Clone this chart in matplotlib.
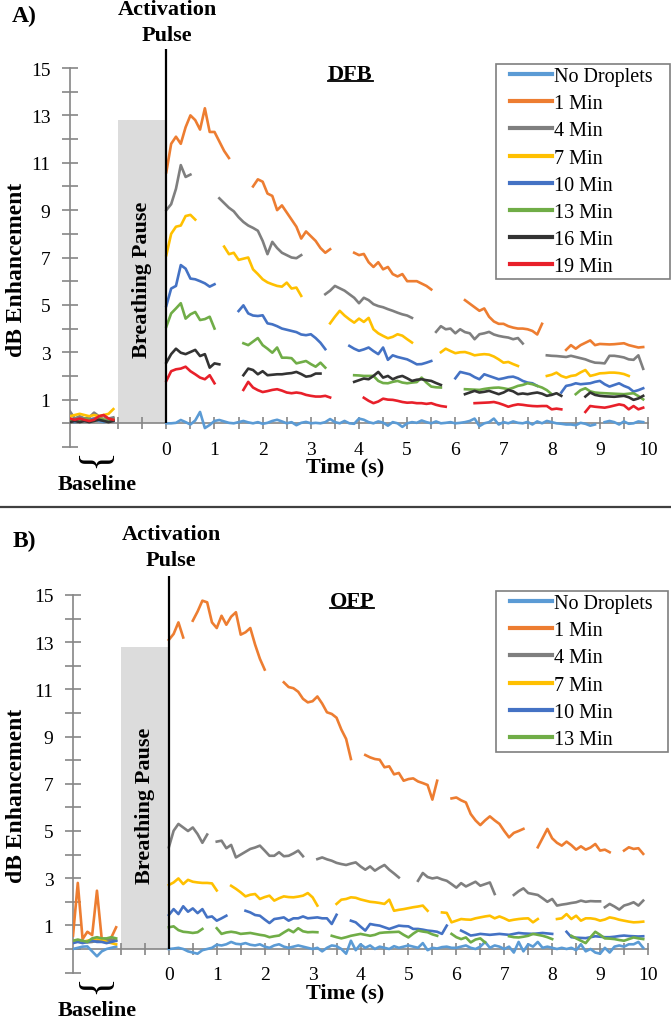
import numpy as np
import matplotlib
matplotlib.use('Agg')
import matplotlib.pyplot as plt
from matplotlib.patches import Rectangle
from matplotlib.lines import Line2D
from matplotlib.ticker import FixedLocator, FuncFormatter

plt.rcParams['font.family'] = ['Liberation Serif', 'DejaVu Serif']

W, H = 671, 1020
DT = 0.1  # sampling step (s)

labels_a = ['No Droplets', '1 Min', '4 Min', '7 Min', '10 Min', '13 Min', '16 Min', '19 Min']
labels_b = labels_a[:6]
colors = ['#5B9BD5', '#ED7D31', '#7F7F7F', '#FFC000', '#4472C4', '#70AD47', '#333333', '#E8202A']

# each series is a list of (start time, values) segments, sampled every DT
# ---------------- A) DFB ----------------
dfb_none = [
    (-2.0, [0.1, 0.05, 0.1, 0.12, 0.08, 0.15, 0.1, 0.05, 0.1, 0.12]),
    (0.0, [0.0, 0.0, 0.02, 0.14, 0.05, -0.05, 0.12, 0.48, -0.2, -0.07,
           0.1, 0.14, 0.08, 0.02, 0.0, 0.05, 0.1, 0.04, 0.0, 0.05,
           -0.02, 0.02, 0.1, 0.15, 0.08, 0.0, 0.05, -0.08, 0.02, 0.06,
           0.0, 0.02, 0.0, 0.05, 0.18, 0.05, 0.0, 0.1, 0.0, -0.02,
           0.2, 0.15, 0.05, 0.0, 0.08, 0.03, -0.1, 0.05, 0.0, -0.15,
           0.0, 0.05, 0.02, 0.12, 0.05, 0.0, 0.08, 0.0, 0.02, 0.05,
           0.0, 0.02, 0.05, 0.1, 0.2, -0.12, 0.0, 0.05, 0.2, -0.05,
           0.05, 0.0, 0.08, 0.02, 0.0, 0.06, -0.05, 0.08, 0.0, 0.1,
           0.05, 0.0, -0.02, -0.05, -0.05, -0.08, 0.02, -0.02, -0.1, -0.05]),
    (9.1, [0.05, 0.1, 0.05, -0.05, 0.08, -0.02, 0.0, 0.08, 0.05]),
]
dfb_1 = [
    (-2.0, [0.2, 0.15, 0.25, 0.2, 0.15, 0.2, 0.3, 0.15, 0.2, 0.2]),
    (0.0, [10.6, 11.8, 12.1, 11.8, 12.5, 13.0, 12.8, 12.4, 13.3, 12.3, 12.3, 11.9, 11.5, 11.2]),
    (1.8, [10.0, 10.3, 10.2, 9.7, 9.6, 9.0, 9.2, 8.9, 8.6, 8.3, 7.8, 8.1, 7.9, 7.7, 7.4, 7.2, 7.35]),
    (3.9, [7.2, 7.1, 7.15, 6.8, 6.6, 6.8, 6.5, 6.6, 6.3, 6.2, 6.3, 6.0, 6.0, 6.0, 5.9, 5.8, 5.65]),
    (6.2, [5.2, 5.05, 4.9, 4.75, 4.85, 4.5, 4.3, 4.2, 4.2, 4.1, 4.04, 4.0, 4.0, 3.97, 3.9, 3.75, 4.2]),
    (8.3, [3.1, 3.3, 3.15, 3.3, 3.4, 3.5, 3.3, 3.35, 3.34, 3.33, 3.34, 3.36, 3.38, 3.3, 3.25, 3.2, 3.22]),
]
dfb_4 = [
    (-2.0, [0.5, 0.2, 0.3, 0.2, 0.25, 0.45, 0.3, 0.3, 0.2, 0.25]),
    (0.0, [9.0, 9.25, 9.9, 10.9, 10.4, 10.5]),
    (1.1, [9.5, 9.3, 9.1, 8.95, 8.7, 8.5, 8.35, 8.25, 8.13, 7.7, 7.14, 7.66, 7.4, 7.2, 7.1, 7.0, 6.97, 7.1]),
    (3.3, [5.45, 5.6, 5.8, 5.7, 5.6, 5.45, 5.3, 5.07, 5.3, 5.2, 5.03, 4.95, 4.9, 4.82, 4.75, 4.67, 4.6, 4.55, 4.45]),
    (5.6, [3.86, 4.1, 3.97, 4.0, 3.8, 3.97, 3.85, 3.8, 3.55, 3.76, 3.8, 3.86, 3.75, 3.69, 3.65, 3.62, 3.55, 3.6, 3.37]),
    (7.9, [2.87, 2.85, 2.84, 2.82, 2.8, 2.85, 2.8, 2.75, 2.7, 2.62, 2.56, 2.55, 2.53, 2.85, 2.85, 2.82, 2.78,
           2.7, 2.68, 2.87, 2.3]),
]
dfb_7 = [
    (-2.0, [0.3, 0.35, 0.4, 0.35, 0.3, 0.35, 0.3, 0.35, 0.4, 0.6]),
    (0.0, [7.1, 8.0, 8.3, 8.35, 8.75, 8.8, 8.6]),
    (1.2, [7.46, 7.14, 7.2, 6.9, 6.95, 7.0, 6.5, 6.3, 6.08, 5.95, 5.87, 5.8, 5.77, 5.94, 5.69, 5.73, 5.38]),
    (3.4, [4.22, 4.5, 4.75, 4.55, 4.39, 4.25, 4.42, 4.28, 4.45, 3.97, 3.8, 3.69, 3.59, 3.65, 3.76, 3.7, 3.55, 3.41]),
    (5.7, [3.0, 3.15, 3.05, 2.96, 3.0, 3.01, 2.95, 2.87, 2.9, 2.92, 2.9, 2.82, 2.7, 2.56, 2.59, 2.5, 2.42]),
    (7.9, [2.0, 2.05, 2.14, 2.0, 1.93, 2.0, 2.03, 2.15, 2.25, 2.0, 2.05, 2.11, 2.12, 2.14, 2.14, 2.12, 2.08, 2.0]),
]
dfb_10 = [
    (-2.0, [0.15, 0.1, 0.2, 0.1, 0.15, 0.2, 0.15, 0.1, 0.15, 0.1]),
    (0.0, [4.96, 5.69, 5.8, 6.68, 6.53, 6.11, 6.08, 6.0, 5.91, 5.77, 5.87]),
    (1.5, [4.74, 4.98, 4.64, 4.55, 4.53, 4.56, 4.22, 4.18, 4.1, 4.0, 3.95, 3.9, 3.85, 3.75, 3.72, 3.76, 3.6, 3.4, 3.13]),
    (3.8, [3.27, 3.15, 3.06, 3.12, 3.2, 3.05, 2.92, 3.2, 2.68, 2.87, 2.8, 2.75, 2.7, 2.6, 2.49, 2.5, 2.56, 2.63]),
    (6.0, [1.9, 2.17, 2.12, 2.07, 1.95, 1.86, 2.07, 2.0, 1.93, 1.86, 1.9, 1.95, 1.97, 1.9, 1.79, 1.72, 1.69, 1.58]),
    (8.2, [1.3, 1.58, 1.62, 1.69, 1.65, 1.67, 1.69, 1.75, 1.79, 1.65, 1.55, 1.62, 1.69, 1.58, 1.5, 1.34, 1.4, 1.48]),
]
dfb_13 = [
    (-2.0, [0.1, 0.15, 0.1, 0.2, 0.15, 0.1, 0.2, 0.15, 0.1, 0.15]),
    (0.0, [4.08, 4.64, 4.85, 5.07, 4.42, 4.6, 4.7, 4.36, 4.4, 4.5, 4.0]),
    (1.6, [3.38, 3.3, 3.45, 3.6, 3.3, 3.15, 2.98, 3.2, 2.77, 2.77, 2.75, 2.53, 2.58, 2.63, 2.5, 2.39, 2.56, 2.35]),
    (3.9, [2.03, 2.02, 2.0, 2.0, 2.0, 1.79, 1.7, 1.69, 1.75, 1.79, 1.72, 1.69, 1.72, 1.74, 1.93, 1.72, 1.55, 1.52, 1.51]),
    (6.2, [1.44, 1.43, 1.42, 1.41, 1.45, 1.48, 1.5, 1.51, 1.48, 1.44, 1.5, 1.58, 1.62, 1.69, 1.65, 1.58, 1.51, 1.4, 1.23]),
    (8.5, [1.23, 1.4, 1.48, 1.35, 1.3, 1.28, 1.27, 1.26, 1.25, 1.24, 1.23, 1.25, 1.27, 1.15, 1.01]),
]
dfb_16 = [
    (-2.0, [0.05, 0.1, 0.05, 0.1, 0.05, 0.1, 0.15, 0.1, 0.05, 0.1]),
    (0.0, [2.56, 2.92, 3.15, 2.98, 2.92, 3.01, 3.1, 2.84, 2.92, 2.35, 2.53, 2.49]),
    (1.6, [2.03, 2.31, 2.25, 2.07, 2.2, 2.03, 2.05, 2.07, 2.07, 2.1, 2.12, 2.17, 2.08, 1.97, 2.0, 2.1, 2.1]),
    (3.9, [1.75, 1.82, 1.89, 1.86, 2.0, 2.17, 1.93, 2.0, 1.86, 1.95, 2.0, 1.9, 1.79, 1.84, 1.86, 1.82, 1.79, 1.7, 1.62]),
    (6.2, [1.23, 1.3, 1.37, 1.3, 1.33, 1.37, 1.3, 1.23, 1.3, 1.41, 1.35, 1.23, 1.26, 1.23, 1.27, 1.3, 1.25, 1.16,
           1.2, 1.27, 1.16]),
    (8.7, [1.13, 1.3, 1.2, 1.16, 1.14, 1.13, 1.12, 1.14, 1.16, 1.1, 0.99, 1.05, 1.16]),
]
dfb_19 = [
    (-2.0, [0.2, 0.15, 0.2, 0.15, 0.1, 0.15, 0.3, 0.35, 0.2, 0.15]),
    (0.0, [1.79, 2.2, 2.28, 2.31, 2.39, 2.2, 2.07, 1.93, 1.86, 2.03, 1.69]),
    (1.6, [1.41, 1.75, 1.51, 1.4, 1.32, 1.36, 1.41, 1.44, 1.38, 1.3, 1.27, 1.3, 1.27, 1.2, 1.16, 1.13, 1.13, 1.16, 1.09]),
    (4.1, [1.08, 0.95, 0.85, 0.92, 1.04, 1.0, 0.99, 0.95, 0.9, 0.87, 0.88, 0.85, 0.85, 0.82, 0.85, 0.78, 0.73, 0.7]),
    (6.4, [0.85, 0.86, 0.87, 0.88, 0.9, 0.85, 0.78, 0.7, 0.76, 0.8, 0.78, 0.75, 0.73, 0.72, 0.73, 0.73, 0.59, 0.62, 0.59]),
    (8.7, [0.48, 0.73, 0.7, 0.68, 0.66, 0.7, 0.75, 0.8, 0.76, 0.59, 0.73, 0.59, 0.66]),
]

# ---------------- B) OFP ----------------
ofp_none = [
    (-2.0, [0.0, 0.05, 0.1, 0.11, -0.1, -0.31, -0.1, 0.0, 0.05, 0.1]),
    (0.0, [0.0, 0.02, 0.05, 0.0, -0.1, -0.15, -0.2, -0.05, 0.0, 0.05,
           0.18, 0.15, 0.2, 0.3, 0.22, 0.2, 0.25, 0.18, 0.15, 0.2,
           0.1, 0.05, 0.15, 0.2, 0.1, 0.05, 0.1, 0.15, 0.1, 0.05,
           0.0, 0.05, -0.1, 0.05, 0.15, 0.12, 0.0, -0.2, 0.35, -0.05,
           0.2, 0.05, 0.15, 0.0, 0.1, 0.05, 0.0, 0.12, 0.05, 0.1,
           0.15, 0.1, 0.05, 0.25, -0.05, 0.05, 0.02, 0.08, 0.1, 0.05,
           0.05, 0.1, 0.15, 0.05, 0.0, 0.1, 0.3, 0.05, 0.15, 0.1,
           0.0, 0.1, -0.15, 0.3, -0.1, 0.2, 0.1, 0.3, 0.05, 0.1,
           0.05, 0.0, 0.05, 0.0, 0.05, -0.05, 0.2, -0.1, 0.0, -0.15,
           -0.2, 0.05, -0.15, 0.1, 0.15, 0.1, 0.2, 0.2, 0.3, 0.05]),
]
ofp_1 = [
    (-2.0, [0.56, 2.8, 0.42, 0.73, 0.59, 2.47, 0.42, 0.35, 0.49, 0.92]),
    (0.0, [13.1, 13.35, 13.84, 13.2]),
    (0.5, [13.91, 14.3, 14.76, 14.69, 13.84, 13.6, 14.12, 13.74, 14.08, 14.27, 13.32, 13.42, 13.6, 12.9, 12.3, 11.84]),
    (2.4, [11.3, 11.1, 11.05, 10.9, 10.6, 10.45, 10.5, 10.7, 10.4, 10.03, 9.96, 9.8, 9.3, 8.9, 8.05]),
    (4.1, [8.22, 8.12, 8.05, 8.02, 7.7, 7.74, 7.4, 7.46, 7.13, 7.2, 7.23, 7.1, 7.03, 6.95, 6.33, 7.13]),
    (5.9, [6.38, 6.42, 6.3, 6.21, 5.72, 5.45, 5.25, 5.45, 5.62, 5.45, 5.3, 5.0, 4.73, 4.92, 5.0, 5.09]),
    (7.7, [4.31, 4.7, 5.09, 4.69, 4.5, 4.38, 4.55, 4.4, 4.21, 4.35, 4.21, 4.3, 4.45, 4.17, 4.21, 4.1]),
    (9.5, [4.17, 4.31, 4.24, 4.27, 4.03]),
]
ofp_4 = [
    (-2.0, [0.3, 0.32, 0.3, 0.28, 0.3, 0.35, 0.4, 0.38, 0.4, 0.35]),
    (0.0, [4.31, 5.01, 5.3, 5.15, 5.0, 5.15, 4.87, 4.5, 4.85]),
    (1.0, [4.55, 4.59, 4.27, 4.41, 3.88, 4.0, 4.12, 4.24, 4.3, 4.38, 4.17, 3.95, 3.95, 4.1, 3.93, 3.95, 4.05, 4.17, 3.93]),
    (3.1, [3.81, 3.88, 3.8, 3.74, 3.65, 3.6, 3.56, 3.62, 3.67, 3.5, 3.36, 3.5, 3.32, 3.45, 3.56, 3.36, 3.2, 3.03]),
    (5.2, [2.89, 3.22, 3.05, 2.99, 3.03, 2.95, 2.89, 2.75, 2.6, 2.79, 2.65, 2.75, 2.85, 2.68, 2.75, 2.82, 2.33]),
    (7.2, [2.29, 2.45, 2.57, 2.37, 2.33, 2.29, 2.15, 2.0, 2.12, 1.84, 1.88, 1.91, 1.95, 1.98, 2.05, 2.0, 2.03, 2.02, 2.02]),
    (9.1, [1.77, 1.91, 1.8, 1.67, 1.84, 1.9, 1.98, 1.84, 2.05]),
]
ofp_7 = [
    (-2.0, [0.3, 0.35, 0.3, 0.35, 0.4, 0.45, 0.4, 0.3, 0.25, 0.2]),
    (0.0, [2.71, 2.82, 2.99, 2.75, 2.93, 2.85, 2.82, 2.8, 2.8, 2.78, 2.48]),
    (1.3, [2.68, 2.55, 2.4, 2.23, 2.3, 2.33, 2.12, 2.2, 2.26, 2.05, 2.15, 2.23, 2.2, 2.19, 2.22, 2.26, 2.37, 2.19, 1.84]),
    (3.5, [1.91, 2.09, 2.12, 2.19, 2.17, 2.1, 2.05, 2.0, 1.98, 1.95, 1.91, 2.09, 1.62, 1.66, 1.69, 1.73, 1.77, 1.8,
           1.84, 1.62]),
    (5.7, [1.55, 1.53, 1.13, 1.2, 1.27, 1.25, 1.24, 1.3, 1.34, 1.38, 1.41, 1.3, 1.38, 1.3, 1.2, 1.24, 1.27, 1.29,
           1.3, 1.13, 1.27]),
    (8.1, [1.27, 1.3, 1.48, 1.27, 1.41, 1.2, 1.3, 1.3, 1.27, 1.2, 1.25, 1.34, 1.3, 1.24, 1.2, 1.16, 1.13, 1.14, 1.16]),
]
ofp_10 = [
    (-2.0, [0.25, 0.3, 0.25, 0.3, 0.35, 0.3, 0.3, 0.25, 0.3, 0.35]),
    (0.0, [1.44, 1.69, 1.48, 1.81, 1.58, 1.72, 1.52, 1.69, 1.34, 1.38, 1.2, 1.3, 1.41]),
    (1.6, [1.62, 1.55, 1.44, 1.41, 1.25, 1.1, 1.27, 1.3, 1.34, 1.2, 1.3, 1.3, 1.38, 1.3, 1.32, 1.34, 1.3, 1.3,
           1.06, 1.45]),
    (3.8, [1.2, 1.13, 0.95, 0.78, 1.06, 1.02, 0.99, 0.92, 0.85, 0.92, 0.99, 0.97, 0.96, 0.85, 0.85, 0.82, 0.78,
           0.76, 0.73, 0.64, 0.99]),
    (6.1, [0.78, 0.68, 0.57, 0.6, 0.64, 0.62, 0.6, 0.62, 0.64, 0.62, 0.6, 0.64, 0.68, 0.66, 0.65, 0.64, 0.66,
           0.68, 0.66, 0.64]),
    (8.3, [0.73, 0.5, 0.48, 0.47, 0.46, 0.5, 0.54, 0.52, 0.5, 0.5, 0.52, 0.55, 0.57, 0.55, 0.54, 0.53, 0.54]),
]
ofp_13 = [
    (-2.0, [0.35, 0.4, 0.35, 0.3, 0.45, 0.5, 0.45, 0.45, 0.5, 0.45]),
    (0.0, [0.92, 0.96, 0.8, 0.73, 0.71, 0.68, 0.71, 0.85]),
    (1.0, [0.88, 0.64, 0.7, 0.73, 0.7, 0.64, 0.66, 0.68, 0.64, 0.6, 0.57, 0.5, 0.54, 0.57, 0.7, 0.82, 0.71, 0.88,
           0.75, 0.71, 0.72, 0.71]),
    (3.4, [0.56, 0.5, 0.45, 0.5, 0.56, 0.6, 0.64, 0.6, 0.56, 0.6, 0.68, 0.7, 0.71, 0.72, 0.73, 0.6, 0.49, 0.65,
           0.78, 0.74, 0.71, 0.62, 0.56]),
    (5.9, [0.64, 0.5, 0.42, 0.49, 0.28, 0.4, 0.45, 0.28]),
    (7.1, [0.54, 0.5, 0.49, 0.52, 0.56, 0.64, 0.6, 0.56, 0.5, 0.42]),
    (8.4, [0.56, 0.45, 0.35, 0.25, 0.5, 0.73, 0.6, 0.45, 0.44, 0.42, 0.38, 0.35, 0.42, 0.49, 0.45, 0.42]),
]

series_a = [dfb_none, dfb_1, dfb_4, dfb_7, dfb_10, dfb_13, dfb_16, dfb_19]
series_b = [ofp_none, ofp_1, ofp_4, ofp_7, ofp_10, ofp_13]

PAUSE_START, PAUSE_TOP = -1.0, 12.8
PULSE_TOP = 15.8


def fxy(x, y):
    return x / W, 1 - y / H


def setup_axes(ax):
    ax.set_xlim(-2, 10)
    ax.set_ylim(-1, 15)
    for s in ['top', 'right']:
        ax.spines[s].set_visible(False)
    ax.spines['bottom'].set_position(('data', 0))
    ax.spines['left'].set_bounds(-1, 15)
    for s in ['left', 'bottom']:
        ax.spines[s].set_color('#868686')
        ax.spines[s].set_linewidth(1.2)
    ax.yaxis.set_major_locator(FixedLocator(np.arange(-1, 16)))
    ax.yaxis.set_major_formatter(FuncFormatter(
        lambda v, p: f'{int(round(v))}' if v > 0 and int(round(v)) % 2 == 1 else ''))
    ax.xaxis.set_major_locator(FixedLocator(np.arange(-1, 10.01, 0.5)))
    ax.xaxis.set_major_formatter(FuncFormatter(
        lambda v, p: f'{int(round(v))}' if v >= 0 and abs(v - round(v)) < 1e-6 else ''))
    ax.tick_params(axis='y', direction='inout', length=12, width=1.2, color='#868686',
                   pad=8, labelsize=14)
    ax.tick_params(axis='x', direction='inout', length=9, width=1.2, color='#868686',
                   pad=8, labelsize=14)
    ax.add_patch(Rectangle((PAUSE_START, 0), -PAUSE_START, PAUSE_TOP,
                           facecolor='#DCDCDC', edgecolor='none', zorder=1))
    ax.vlines(0, 0, PULSE_TOP, color='black', lw=1.6, clip_on=False, zorder=5)
    ax.text(PAUSE_START / 2, 6.1, 'Breathing Pause', rotation=90, ha='center', va='center',
            fontsize=16, fontweight='bold', zorder=2)


def draw_series(ax, series, cols):
    for segs, c in zip(series, cols):
        for t0, vals in segs:
            t = t0 + DT * np.arange(len(vals))
            ax.plot(t, vals, color=c, lw=1.9, zorder=3)


fig = plt.figure(figsize=(W / 100, H / 100), dpi=100)
ax_a = fig.add_axes([70 / W, 1 - 448 / H, 578 / W, 379 / H])
ax_b = fig.add_axes([73 / W, 1 - 973.6 / H, 575 / W, 377.6 / H])

for ax, series, labs, name, panel, lx, ly, box in [
        (ax_a, series_a, labels_a, 'DFB', 'A)', 167, 10, (496, 65, 670, 280)),
        (ax_b, series_b, labels_b, 'OFP', 'B)', 171, 535, (496, 592, 668, 753))]:
    setup_axes(ax)
    draw_series(ax, series, colors)
    ax.text(3.82, 14.75, name, ha='center', va='center', fontsize=16, fontweight='bold')
    fig.text(*fxy(24, ly + 6), panel, ha='center', va='center', fontsize=17, fontweight='bold')
    fig.text(*fxy(lx, ly), 'Activation', ha='center', va='center', fontsize=16, fontweight='bold')
    fig.text(*fxy(lx, ly + 26), 'Pulse', ha='center', va='center', fontsize=16, fontweight='bold')
    # frame + legend
    x0, y0, x1, y1 = box
    fig.add_artist(Rectangle(fxy(x0, y1), (x1 - x0) / W, (y1 - y0) / H, transform=fig.transFigure,
                             fill=False, edgecolor='#7F7F7F', lw=1.2))
    handles = [Line2D([], [], color=c, lw=3) for c in colors[:len(labs)]]
    fig.legend(handles, labs, loc='upper left', bbox_to_anchor=fxy(510, y0 + 3), frameon=False,
               borderpad=0, borderaxespad=0, handlelength=2.1, handletextpad=0.1,
               labelspacing=0.4, fontsize=14.5)

# axis titles
for yb in [0, 526]:
    fig.text(*fxy(17, 270 + yb), 'dB Enhancement', rotation=90, ha='center', va='center',
             fontsize=17, fontweight='bold')
    fig.text(*fxy(345, 467 + yb), 'Time (s)', ha='center', va='center', fontsize=16, fontweight='bold')
    fig.text(*fxy(97, 485 + yb), 'Baseline', ha='center', va='center', fontsize=16, fontweight='bold')
    fig.text(*fxy(95, 458 + yb), '{', rotation=90, ha='center', va='center', fontsize=30)

fig.add_artist(Line2D([0, 1], [1 - 508 / H, 1 - 508 / H], transform=fig.transFigure, color='#404040', lw=1.6))

# underline panel names
fig.canvas.draw()
r = fig.canvas.get_renderer()
for ax in [ax_a, ax_b]:
    for txt in ax.texts:
        if txt.get_text() in ('DFB', 'OFP'):
            bb = txt.get_window_extent(r).transformed(fig.transFigure.inverted())
            yy = bb.y0 + 0.003
            fig.add_artist(Line2D([bb.x0, bb.x1], [yy, yy], transform=fig.transFigure, color='black', lw=1.3))

fig.savefig('out.png', dpi=100, facecolor='white')
